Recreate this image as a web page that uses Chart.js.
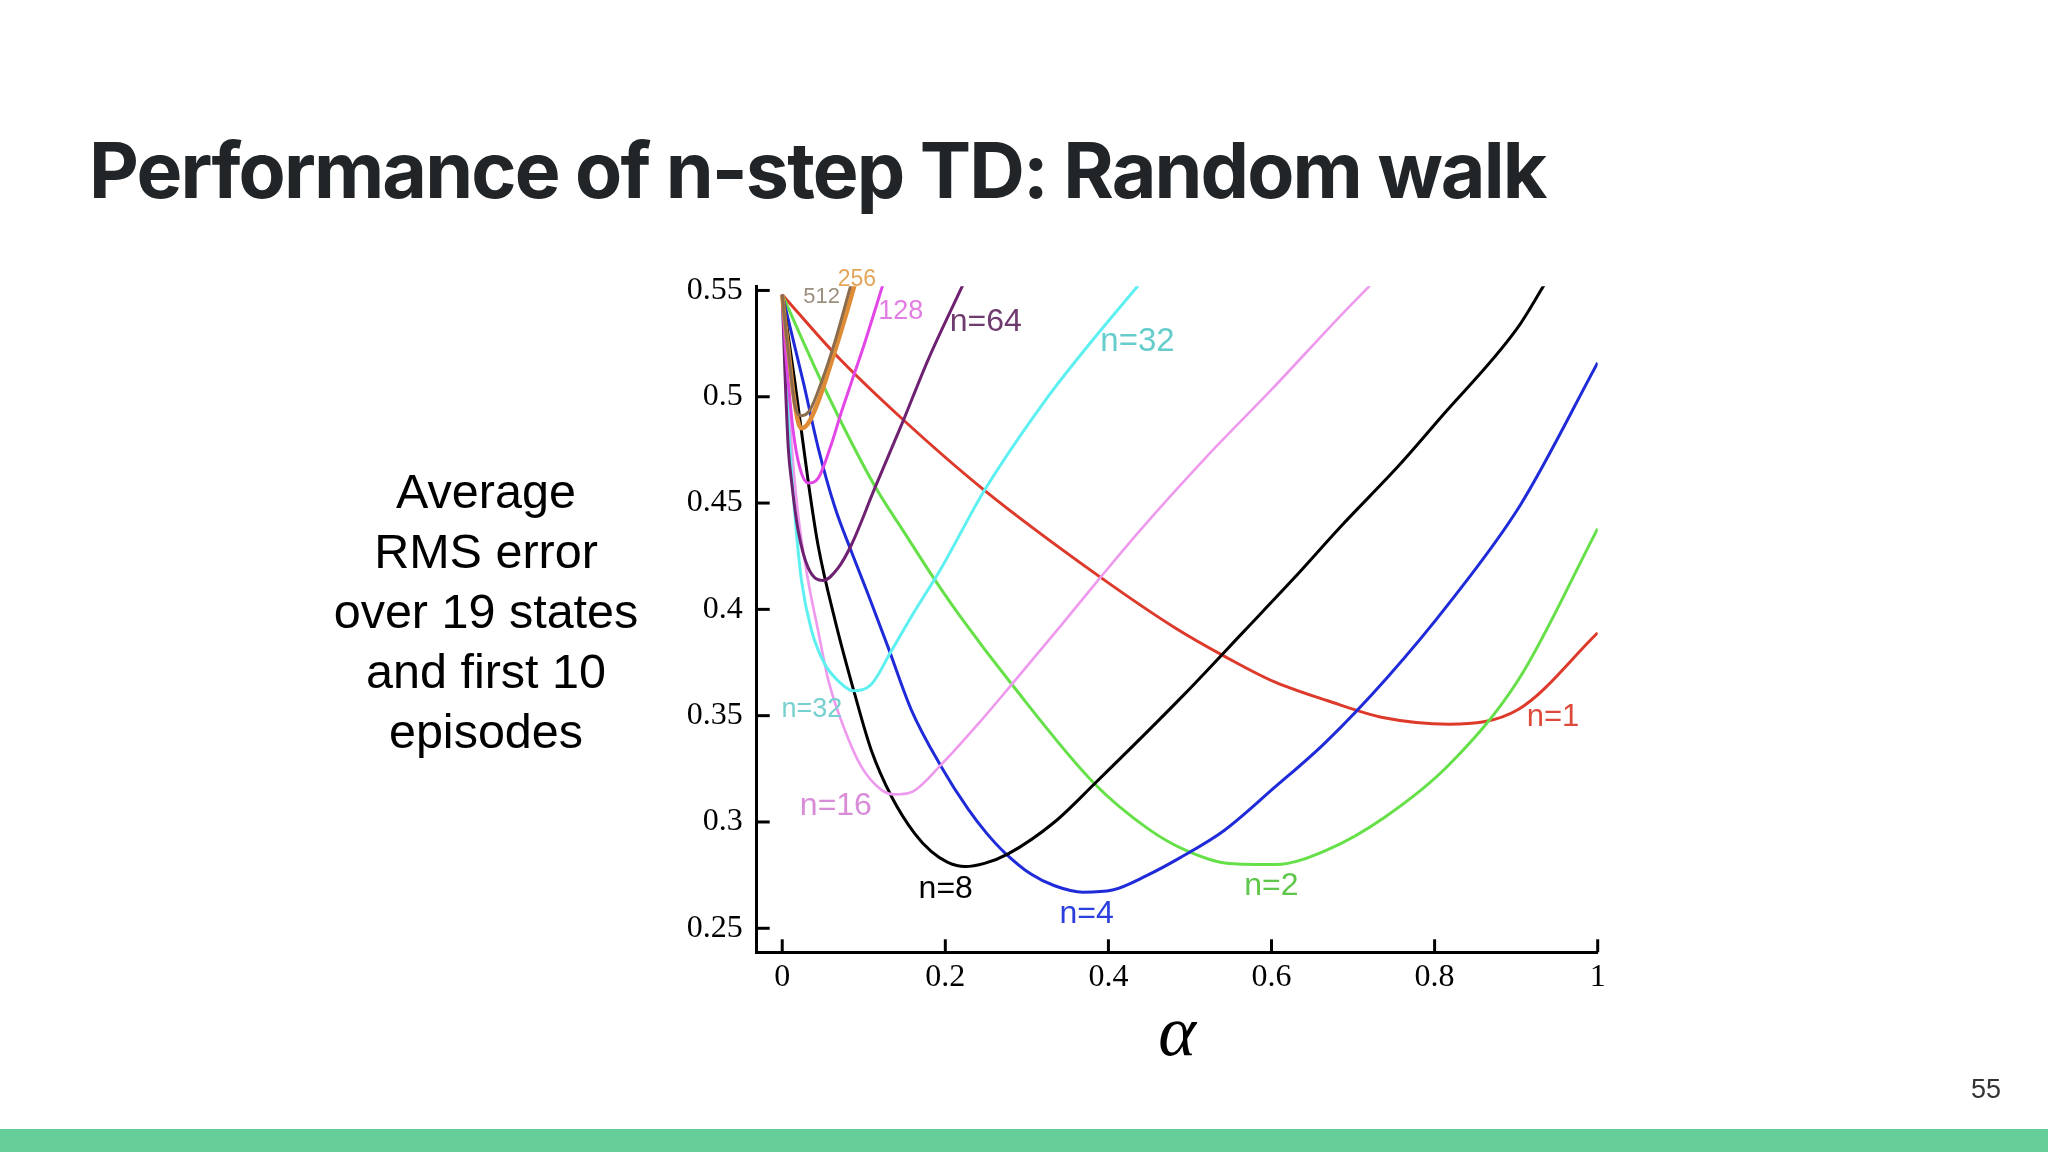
<!DOCTYPE html>
<html>
<head>
<meta charset="utf-8">
<title>Performance of n-step TD: Random walk</title>
<script src="https://cdn.jsdelivr.net/npm/chart.js@4.4.1/dist/chart.umd.min.js"></script>
<style>
html,body{margin:0;padding:0;background:#fff;width:2048px;height:1152px;overflow:hidden;position:relative;}
#title{position:absolute;left:89px;top:132px;font-family:Inter,"Open Sans",sans-serif;font-weight:700;font-size:77px;line-height:77px;letter-spacing:-1.86px;color:#212528;white-space:nowrap;}
#ylab{position:absolute;left:286px;width:400px;top:461px;text-align:center;font-family:"Liberation Sans",Arial,sans-serif;font-size:48.5px;line-height:60px;color:#000;}
#page{position:absolute;right:47px;top:1076px;font-family:"Liberation Sans",Arial,sans-serif;font-size:27px;line-height:27px;color:#333;}
#bar{position:absolute;left:0;top:1129px;width:2048px;height:23px;background:#66cf99;}
#c{position:absolute;left:0;top:0;}
</style>
</head>
<body>
<div id="title">Performance of n-step TD: Random walk</div>
<div id="ylab">Average<br>RMS error<br>over 19 states<br>and first 10<br>episodes</div>
<canvas id="c" width="2048" height="1152"></canvas>
<div id="page">55</div>
<div id="bar"></div>
<script>
// ---- data ----
const seriesNames = ["n=512", "n=256", "n=128", "n=64", "n=32", "n=16", "n=8", "n=4", "n=2", "n=1"];

const alpha_n1 = [0, 0.065, 0.146, 0.248, 0.387, 0.481, 0.542, 0.603, 0.669, 0.738, 0.818, 0.903, 1.0];
const rms_n1   = [0.548, 0.520, 0.490, 0.456, 0.416, 0.3915, 0.378, 0.366, 0.357, 0.349, 0.346, 0.353, 0.389];

const alpha_n2 = [0, 0.052, 0.1135, 0.150, 0.187, 0.2196, 0.281, 0.383, 0.448, 0.493, 0.548, 0.605, 0.669, 0.738, 0.818, 0.903, 1.0];
const rms_n2   = [0.548, 0.504, 0.458, 0.436, 0.414, 0.396, 0.365, 0.318, 0.297, 0.287, 0.2805, 0.280, 0.287, 0.302, 0.327, 0.367, 0.438];

const alpha_n4 = [0, 0.0258, 0.0441, 0.0646, 0.085, 0.1054, 0.130, 0.158, 0.195, 0.228, 0.250, 0.273, 0.305, 0.334, 0.369, 0.405, 0.448, 0.487, 0.542, 0.603, 0.665, 0.742, 0.820, 0.905, 1.0];
const rms_n4   = [0.548, 0.507, 0.476, 0.448, 0.427, 0.407, 0.382, 0.353, 0.326, 0.306, 0.295, 0.2855, 0.2755, 0.270, 0.267, 0.268, 0.275, 0.283, 0.296, 0.316, 0.337, 0.368, 0.404, 0.449, 0.516];

const alpha_n8 = [0, 0.0155, 0.0319, 0.044, 0.065, 0.089, 0.109, 0.134, 0.1625, 0.183, 0.203, 0.224, 0.248, 0.277, 0.334, 0.383, 0.493, 0.567, 0.626, 0.685, 0.757, 0.807, 0.901, 0.935];
const rms_n8   = [0.548, 0.507, 0.460, 0.430, 0.3945, 0.360, 0.334, 0.312, 0.2945, 0.286, 0.281, 0.279, 0.2805, 0.285, 0.300, 0.318, 0.360, 0.390, 0.414, 0.439, 0.468, 0.490, 0.532, 0.553];

const alpha_n16 = [0, 0.005, 0.012, 0.020, 0.032, 0.044, 0.057, 0.077, 0.097, 0.122, 0.138, 0.158, 0.195, 0.240, 0.281, 0.342, 0.387, 0.438, 0.5197, 0.6014, 0.6831, 0.725];
const rms_n16   = [0.548, 0.515, 0.475, 0.443, 0.413, 0.390, 0.366, 0.343, 0.326, 0.315, 0.313, 0.314, 0.327, 0.346, 0.3645, 0.3925, 0.4135, 0.4368, 0.4715, 0.5039, 0.5375, 0.554];

const alpha_n32 = [0, 0.004, 0.009, 0.0155, 0.0237, 0.036, 0.0523, 0.0686, 0.087, 0.1094, 0.1339, 0.1625, 0.1952, 0.248, 0.322, 0.375, 0.438];
const rms_n32   = [0.548, 0.512, 0.478, 0.4445, 0.4133, 0.390, 0.3742, 0.3664, 0.3617, 0.3648, 0.3805, 0.3992, 0.4195, 0.456, 0.498, 0.524, 0.553];

const alpha_n64 = [0, 0.0035, 0.0074, 0.0115, 0.0196, 0.0319, 0.0503, 0.0686, 0.085, 0.1135, 0.146, 0.179, 0.222];
const rms_n64   = [0.548, 0.510, 0.476, 0.460, 0.437, 0.4195, 0.4136, 0.4195, 0.4305, 0.457, 0.4865, 0.5175, 0.553];

const alpha_n128 = [0, 0.0035, 0.0074, 0.0135, 0.0217, 0.0319, 0.0441, 0.0605, 0.0727, 0.085, 0.100, 0.1237];
const rms_n128   = [0.548, 0.525, 0.507, 0.4836, 0.4664, 0.4594, 0.4617, 0.478, 0.493, 0.507, 0.524, 0.553];

const alpha_n256 = [0, 0.0035, 0.0074, 0.0135, 0.0196, 0.0237, 0.0319, 0.0441, 0.0604, 0.0768, 0.089];
const rms_n256   = [0.548, 0.535, 0.5226, 0.502, 0.488, 0.4852, 0.4875, 0.4977, 0.5164, 0.5367, 0.553];

const alpha_n512 = [0, 0.0045, 0.0094, 0.0155, 0.0237, 0.0339, 0.0482, 0.0645, 0.0845];
const rms_n512   = [0.548, 0.531, 0.5148, 0.4961, 0.4911, 0.4937, 0.507, 0.5258, 0.553];

const xTickValues = [0, 0.2, 0.4, 0.6, 0.8, 1];
const xTickLabels = ["0", "0.2", "0.4", "0.6", "0.8", "1"];
const yTickValues = [0.25, 0.3, 0.35, 0.4, 0.45, 0.5, 0.55];
const yTickLabels = ["0.25", "0.3", "0.35", "0.4", "0.45", "0.5", "0.55"];

// curve label texts and their anchor in data units
const labelTexts = ["256", "512", "128", "n=64", "n=32", "n=32", "n=16", "n=8", "n=4", "n=2", "n=1"];
const labelAlpha = [0.0915, 0.0484, 0.1454, 0.2495, 0.4357, 0.0364, 0.0658, 0.2005, 0.3732, 0.5998, 0.9452];
const labelRMS   = [0.5553, 0.5469, 0.5403, 0.5351, 0.5258, 0.3528, 0.3074, 0.2685, 0.2567, 0.2698, 0.3490];

// ---- styles ----
const lineColors = ["#8b6c4c", "#e08b35", "#e246e6", "#6e2170", "#5ef0f0", "#ee99ee", "#000000", "#1f2bd9", "#66e048", "#dd3a2c"];
const lineWidths = [3, 4.5, 3, 3, 3, 2.6, 3, 3, 3, 3];
const labelColors = ["#e3a55b", "#9b8f7e", "#e27de2", "#6f3a6e", "#66cccc", "#77d0d0", "#d88cd8", "#000000", "#2a3fdd", "#5ec64a", "#dd4a3c"];
const labelSizes = [23, 22, 27, 32, 33, 27, 32, 32, 32, 32, 31];

const alphaSets = [alpha_n512, alpha_n256, alpha_n128, alpha_n64, alpha_n32, alpha_n16, alpha_n8, alpha_n4, alpha_n2, alpha_n1];
const rmsSets   = [rms_n512, rms_n256, rms_n128, rms_n64, rms_n32, rms_n16, rms_n8, rms_n4, rms_n2, rms_n1];

const datasets = seriesNames.map((name, i) => ({
  label: name,
  data: alphaSets[i].map((a, k) => ({x: a, y: rmsSets[i][k]})),
  showLine: true,
  borderColor: lineColors[i],
  backgroundColor: lineColors[i],
  borderWidth: lineWidths[i],
  pointRadius: 0,
  pointHoverRadius: 0,
  cubicInterpolationMode: 'monotone',
  fill: false,
  clip: 0
}));

const marksPlugin = {
  id: 'marks',
  afterDraw(chart) {
    const {ctx, chartArea: a, scales: {x, y}} = chart;
    ctx.save();
    ctx.strokeStyle = '#000';
    ctx.lineWidth = 3;
    yTickValues.forEach(v => {
      const py = y.getPixelForValue(v);
      ctx.beginPath(); ctx.moveTo(a.left, py); ctx.lineTo(a.left + 13, py); ctx.stroke();
    });
    xTickValues.forEach(v => {
      const px = x.getPixelForValue(v);
      ctx.beginPath(); ctx.moveTo(px, a.bottom); ctx.lineTo(px, a.bottom - 13); ctx.stroke();
    });
    ctx.textAlign = 'center';
    ctx.textBaseline = 'middle';
    labelTexts.forEach((t, i) => {
      ctx.font = labelSizes[i] + 'px "Liberation Sans", Arial, sans-serif';
      ctx.fillStyle = labelColors[i];
      ctx.fillText(t, x.getPixelForValue(labelAlpha[i]), y.getPixelForValue(labelRMS[i]));
    });
    ctx.restore();
  }
};

new Chart(document.getElementById('c'), {
  type: 'scatter',
  data: {datasets},
  options: {
    responsive: false,
    animation: false,
    devicePixelRatio: 1,
    layout: {padding: {left: 636.7, top: 286.2, right: 450.3, bottom: 79.7}},
    plugins: {legend: {display: false}, tooltip: {enabled: false}},
    events: [],
    scales: {
      x: {
        type: 'linear', min: -0.0313, max: 1,
        afterBuildTicks: s => { s.ticks = xTickValues.map(v => ({value: v})); },
        afterFit: s => { s.height = 120; },
        grid: {display: false, drawTicks: false},
        border: {display: true, color: '#000', width: 3},
        ticks: {padding: 6, color: '#000', autoSkip: false, maxRotation: 0,
                font: {family: '"Liberation Serif", "Times New Roman", serif', size: 32},
                callback: (v, i) => xTickLabels[i]},
        title: {display: true, text: 'α', color: '#000', padding: 0,
                font: {family: '"Liberation Serif", "Times New Roman", serif', style: 'italic', size: 72, lineHeight: 1}}
      },
      y: {
        type: 'linear', min: 0.2387, max: 0.552,
        afterBuildTicks: s => { s.ticks = yTickValues.map(v => ({value: v})); },
        afterFit: s => { s.width = 120; },
        grid: {display: false, drawTicks: false},
        border: {display: true, color: '#000', width: 3},
        ticks: {padding: 14, color: '#000', autoSkip: false,
                font: {family: '"Liberation Serif", "Times New Roman", serif', size: 32},
                callback: (v, i) => yTickLabels[i]}
      }
    }
  },
  plugins: [marksPlugin]
});
</script>
</body>
</html>
